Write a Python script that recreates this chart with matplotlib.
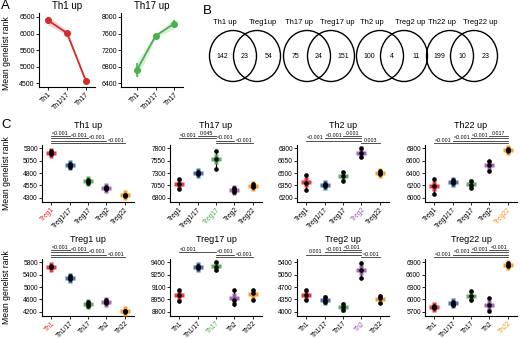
import matplotlib
matplotlib.use('Agg')
import matplotlib.pyplot as plt
from matplotlib.patches import Ellipse
import numpy as np

plt.rcParams['font.family'] = ['Liberation Sans', 'DejaVu Sans']

##%------------ data -----------
# panel A: mean rank along Th1 -> Th1/17 -> Th17
a_groups = ['Th1', 'Th1/17', 'Th17']
a_th1_mean = [6400, 6015, 4560]
a_th1_err = [110, 50, 45]
a_th17_mean = [6720, 7545, 7840]
a_th17_err = [170, 35, 95]

# panel B: venn counts
venn_left = ['Th1 up', 'Th17 up', 'Th2 up', 'Th22 up']
venn_right = ['Treg1up', 'Treg17 up', 'Treg2 up', 'Treg22 up']
venn_only_left = [142, 75, 100, 199]
venn_shared = [23, 24, 4, 10]
venn_only_right = [54, 151, 11, 23]

# panel C: replicate ranks (3 per group)
treg_groups = ['Treg1', 'Treg1/17', 'Treg17', 'Treg2', 'Treg22']
th_groups = ['Th1', 'Th1/17', 'Th17', 'Th2', 'Th22']
group_colors = ['#e0262b', '#2f64a6', '#4aa84a', '#9a57b0', '#f7941d']

th1_up = [[5240, 5200, 5180], [4990, 4960, 4930], [4660, 4630, 4600], [4520, 4500, 4470], [4360, 4350, 4340]]
th17_up = [[7180, 7077, 6985], [7330, 7300, 7280], [7753, 7583, 7387], [7000, 6960, 6920], [7083, 7030, 7010]]
th2_up = [[6480, 6380, 6300], [6365, 6350, 6340], [6515, 6460, 6400], [6800, 6748, 6690], [6520, 6500, 6490]]
th22_up = [[6307, 6184, 6069], [6280, 6255, 6240], [6277, 6210, 6160], [6600, 6533, 6437], [6790, 6770, 6750]]
treg1_up = [[5690, 5660, 5630], [5340, 5300, 5260], [4500, 4440, 4400], [4570, 4520, 4480], [4240, 4220, 4200]]
treg17_up = [[9064, 9003, 8930], [9360, 9347, 9335], [9400, 9339, 9307], [9060, 8940, 8890], [9064, 9023, 8942]]
treg2_up = [[4615, 4473, 4331], [4420, 4331, 4280], [4230, 4123, 4050], [5372, 5182, 4946], [4450, 4380, 4250]]
treg22_up = [[5840, 5813, 5790], [5940, 5900, 5870], [6203, 6081, 5976], [6024, 5863, 5724], [6870, 6835, 6800]]

th1_up_ticks = [4300, 4550, 4800, 5050, 5300]
th17_up_ticks = [6800, 7050, 7300, 7550, 7800]
th2_up_ticks = [6200, 6350, 6500, 6650, 6800]
th22_up_ticks = [6000, 6200, 6400, 6600, 6800]
treg1_up_ticks = [4200, 4600, 5000, 5400, 5800]
treg17_up_ticks = [8800, 8950, 9100, 9250, 9400]
treg2_up_ticks = [4000, 4350, 4700, 5050, 5400]
treg22_up_ticks = [5700, 6000, 6300, 6600, 6900]

# comparisons vs highlighted group, listed top to bottom
th1_up_cmp = [(1, '<0.001'), (2, '<0.001'), (3, '<0.001'), (4, '<0.001')]
th17_up_cmp = [(1, '0.045'), (0, '<0.001'), (3, '<0.001'), (4, '<0.001')]
th2_up_cmp = [(2, '0.001'), (1, '<0.001'), (0, '<0.001'), (4, '0.003')]
th22_up_cmp = [(3, '0.017'), (2, '<0.001'), (1, '<0.001'), (0, '<0.001')]
treg1_up_cmp = [(1, '<0.001'), (2, '<0.001'), (3, '<0.001'), (4, '<0.001')]
treg17_up_cmp = [(0, '<0.001'), (3, '<0.001'), (4, '<0.001')]
treg2_up_cmp = [(2, '<0.001'), (1, '<0.001'), (0, '0.001'), (4, '<0.001')]
treg22_up_cmp = [(3, '<0.001'), (2, '<0.001'), (1, '<0.001'), (0, '<0.001')]

## ------------ figure -----------
W, H = 520, 339
fig = plt.figure(figsize=(W / 100, H / 100), dpi=100)


def px_axes(x0, y0, x1, y1):
    return fig.add_axes([x0 / W, 1 - y1 / H, (x1 - x0) / W, (y1 - y0) / H])


def style(ax, fs=5):
    ax.spines['top'].set_visible(False)
    ax.spines['right'].set_visible(False)
    for s in ['left', 'bottom']:
        ax.spines[s].set_linewidth(0.8)
    ax.tick_params(length=2, width=0.6, labelsize=fs, pad=1)


# background axes in pixel coords (venn + labels)
bg = fig.add_axes([0, 0, 1, 1])
bg.set_xlim(0, W)
bg.set_ylim(H, 0)
bg.axis('off')

for lbl, (x, y) in zip('ABC', [(1, 6), (203, 11), (1, 125)]):
    bg.text(x, y, lbl, fontsize=9.5, va='center', ha='left')

for y in [53, 173, 287]:
    bg.text(7, y, 'Mean genelist rank', rotation=90, fontsize=6.2, ha='center', va='center')

## ------------ panel A -----------
for (x0, x1, xl), title, mean, err, col, ticks in [
        ((39, 95, -0.47), 'Th1 up', a_th1_mean, a_th1_err, '#d42a2a', [4500, 5000, 5500, 6000, 6500]),
        ((121, 183, -0.85), 'Th17 up', a_th17_mean, a_th17_err, '#4caf50', [6400, 6800, 7200, 7600, 8000])]:
    ax = px_axes(x0, 13, x1, 87)
    pos = np.arange(len(a_groups))
    mean = np.array(mean)
    err = np.array(err)
    ax.fill_between(pos, mean - err * 1.3, mean + err * 1.3, color=col, alpha=0.2, lw=0)
    ax.errorbar(pos, mean, yerr=err, color=col, marker='o', ms=4, lw=1.3, capsize=0, elinewidth=1.2)
    ax.set_xlim(xl, 2.47)
    span = ticks[-1] - ticks[0]
    ax.set_ylim(ticks[0] - 0.055 * span, ticks[-1] + 0.06 * span)
    ax.set_yticks(ticks)
    ax.set_xticks(pos, labels=a_groups, rotation=45, ha='right', rotation_mode='anchor')
    ax.set_title(title, fontsize=7, pad=3)
    style(ax, 5)

## ------------ panel B -----------
cx_left = [233, 307, 380, 450]
for i in range(4):
    cl, cr = cx_left[i], cx_left[i] + 24
    for c in [cl, cr]:
        bg.add_patch(Ellipse((c, 56), 47, 51, fill=False, lw=1.0, ec='black'))
    bg.text(cl - 8, 22.5, venn_left[i], fontsize=5.5, ha='center', va='center')
    bg.text(cr + 6, 22.5, venn_right[i], fontsize=5.5, ha='center', va='center')
    bg.text(cl - 11, 57, str(venn_only_left[i]), fontsize=5, ha='center', va='center')
    bg.text((cl + cr) / 2, 57, str(venn_shared[i]), fontsize=5, ha='center', va='center')
    bg.text(cr + 12, 57, str(venn_only_right[i]), fontsize=5, ha='center', va='center')

## ------------ panel C -----------
panels = [
    ('Th1 up', treg_groups, 0, th1_up, th1_up_ticks, th1_up_cmp),
    ('Th17 up', treg_groups, 2, th17_up, th17_up_ticks, th17_up_cmp),
    ('Th2 up', treg_groups, 3, th2_up, th2_up_ticks, th2_up_cmp),
    ('Th22 up', treg_groups, 4, th22_up, th22_up_ticks, th22_up_cmp),
    ('Treg1 up', th_groups, 0, treg1_up, treg1_up_ticks, treg1_up_cmp),
    ('Treg17 up', th_groups, 2, treg17_up, treg17_up_ticks, treg17_up_cmp),
    ('Treg2 up', th_groups, 3, treg2_up, treg2_up_ticks, treg2_up_cmp),
    ('Treg22 up', th_groups, 4, treg22_up, treg22_up_ticks, treg22_up_cmp),
]
col_x = [42, 170, 297, 425]
row_y = [(145, 202), (259, 316)]

for k, (title, groups, ref, reps, ticks, cmps) in enumerate(panels):
    r, c = divmod(k, 4)
    ax = px_axes(col_x[c], row_y[r][0], col_x[c] + 92, row_y[r][1])
    for i, vals in enumerate(reps):
        vals = np.array(vals, dtype=float)
        m, sd = vals.mean(), vals.std(ddof=1)
        ax.plot([i, i], [m - sd, m + sd], color='black', lw=0.9, zorder=2)
        ax.plot(i, m, marker='P', ms=6.5, color=group_colors[i], mec='none', zorder=3, alpha=0.9)
        ax.plot(np.full(3, i), vals, 'o', color='black', ms=2.3, zorder=4)
    ax.set_xlim(-0.5, 4.5)
    span = ticks[-1] - ticks[0]
    ax.set_ylim(ticks[0] - 0.085 * span, ticks[-1] + 0.065 * span)
    ax.set_yticks(ticks)
    ax.set_xticks(range(5), labels=groups, rotation=45, ha='right', rotation_mode='anchor')
    ax.get_xticklabels()[ref].set_color(group_colors[ref])
    style(ax, 4.8)
    ax.set_title(title, fontsize=6.5, pad=12)

    # significance lines, stacked from the bottom
    tr = ax.get_xaxis_transform()
    n = len(cmps)
    for j, (o, p) in enumerate(cmps):
        slot = 3 - (j + 4 - n)
        y = 1.035 + slot * 0.04
        ax.plot([min(o, ref), max(o, ref)], [y, y], color='#333333', lw=0.6,
                transform=tr, clip_on=False)
        lx = o + 0.5 if o < ref else o - 0.5
        ax.text(lx, y + 0.004, p, fontsize=3.8, ha='center', va='bottom', transform=tr)

fig.savefig('out.png', dpi=100)
